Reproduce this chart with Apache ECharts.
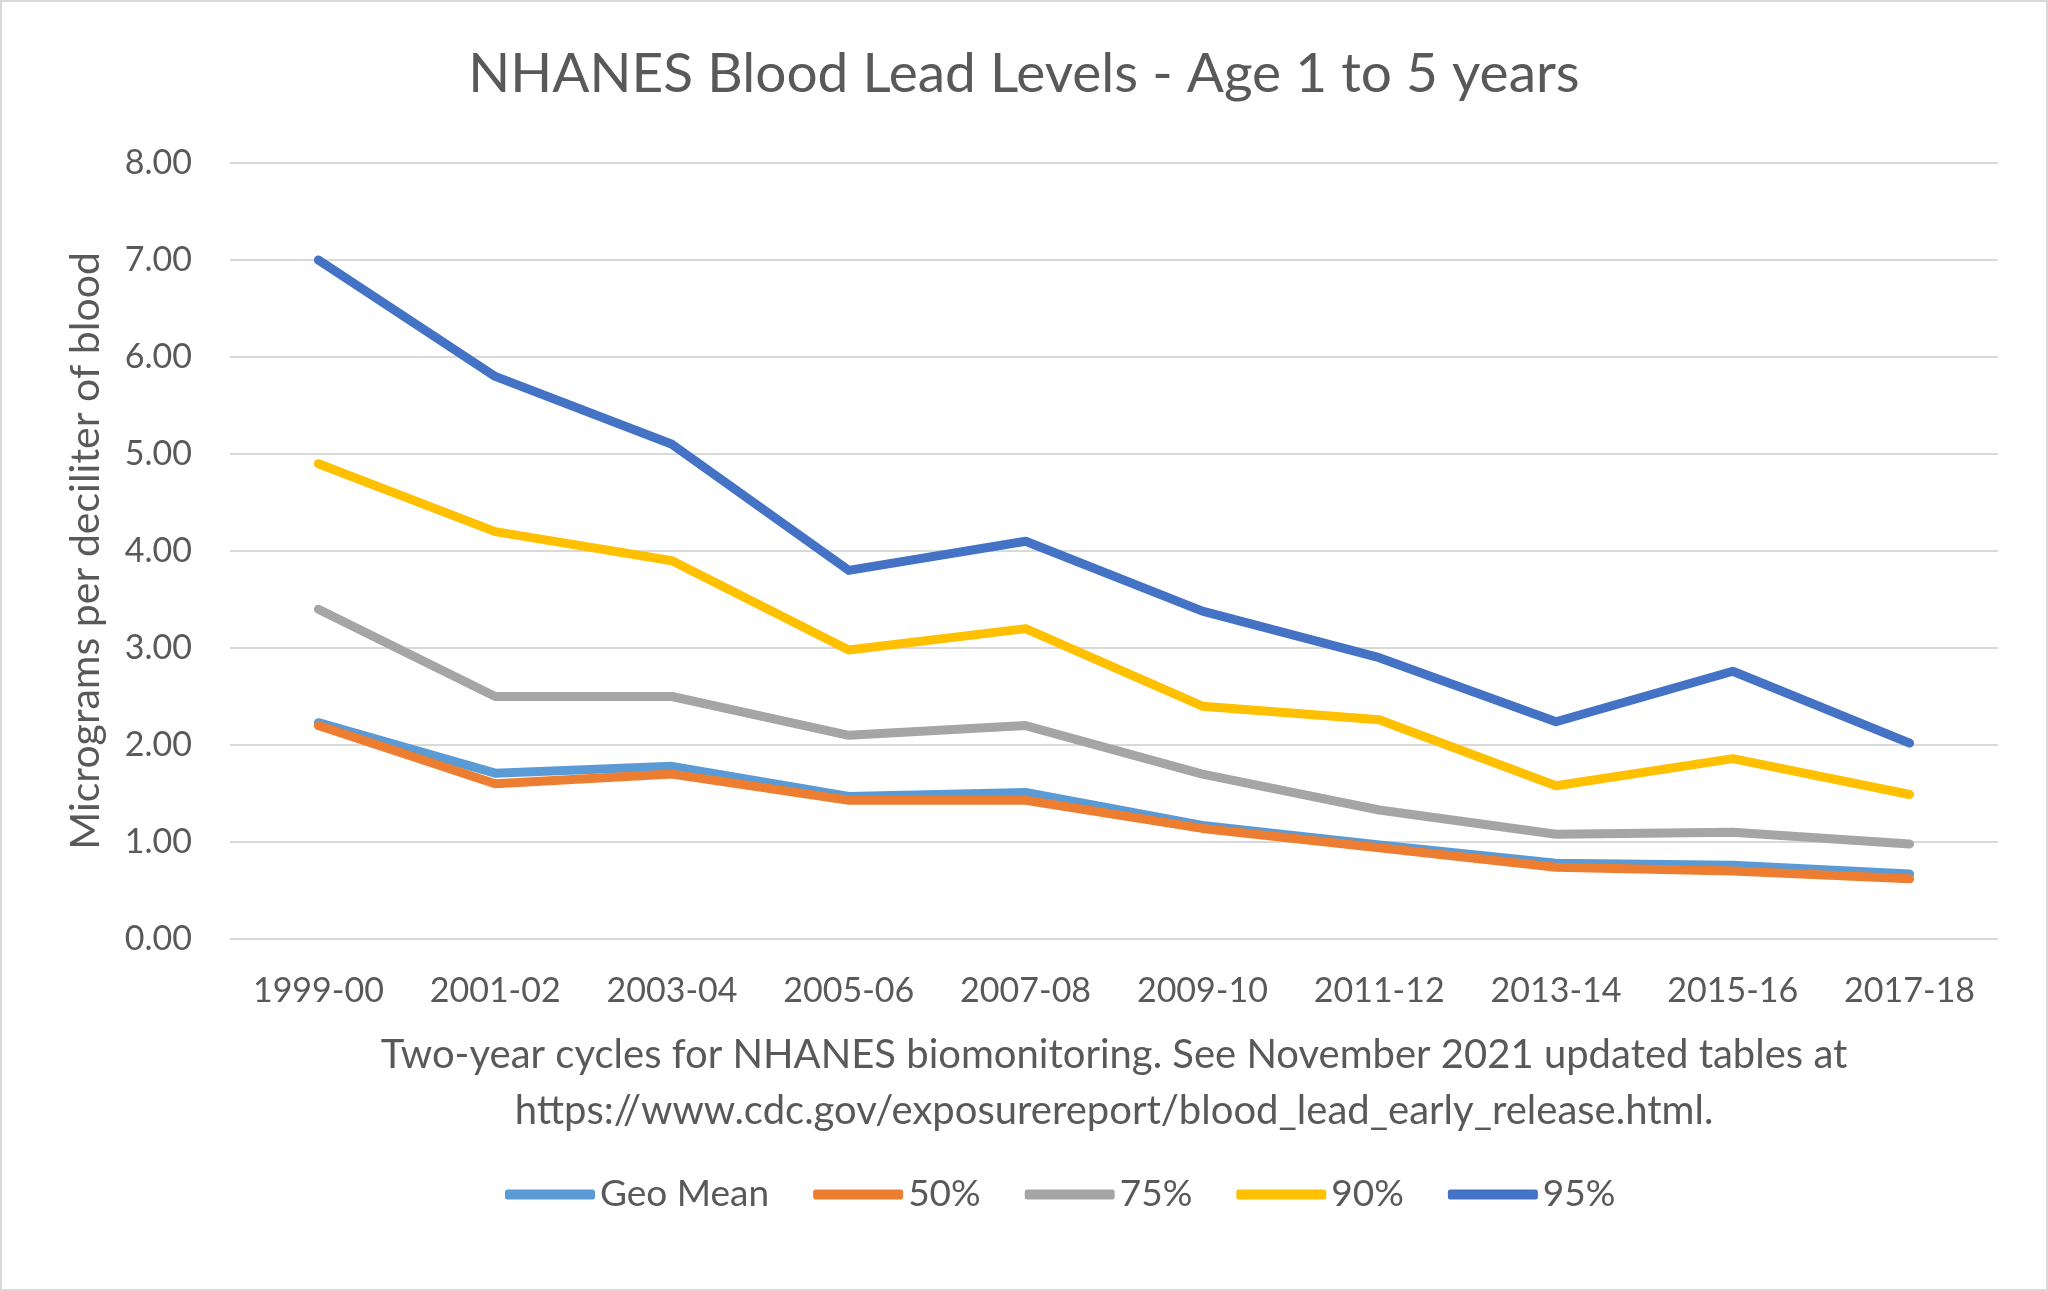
<!DOCTYPE html>
<html><head><meta charset="utf-8">
<script src="https://cdn.jsdelivr.net/npm/echarts@6/dist/echarts.min.js"></script>
<style>html,body{margin:0;padding:0;background:#fff}#c{width:2048px;height:1291px}</style>
</head><body><div id="c"></div>
<script>
const categories = ['1999-00','2001-02','2003-04','2005-06','2007-08','2009-10','2011-12','2013-14','2015-16','2017-18'];
const geoMean = [2.23, 1.71, 1.78, 1.47, 1.51, 1.17, 0.97, 0.78, 0.76, 0.67];
const p50 = [2.2, 1.6, 1.7, 1.43, 1.43, 1.14, 0.94, 0.74, 0.7, 0.62];
const p75 = [3.4, 2.5, 2.5, 2.1, 2.2, 1.7, 1.33, 1.08, 1.1, 0.98];
const p90 = [4.9, 4.2, 3.9, 2.98, 3.2, 2.4, 2.26, 1.58, 1.86, 1.49];
const p95 = [7.0, 5.8, 5.1, 3.8, 4.1, 3.38, 2.9, 2.24, 2.76, 2.02];
const seriesNames = ['Geo Mean','50%','75%','90%','95%'];
const seriesData = [geoMean, p50, p75, p90, p95];
const colors = ['#5B9BD5','#ED7D31','#A5A5A5','#FFC000','#4472C4'];

const FONT = 'Lato';
const TXT = '#595959';
const chart = echarts.init(document.getElementById('c'), null, {renderer:'canvas'});
chart.setOption({
  animation:false,
  backgroundColor:'#fff',
  title:{text:'NHANES Blood Lead Levels - Age 1 to 5 years', left:'center', top:42,
    textStyle:{fontFamily:FONT, fontSize:55, fontWeight:'normal', color:TXT}},
  graphic:[{type:'rect', shape:{x:1,y:1,width:2046,height:1289}, style:{fill:'none', stroke:'#d9d9d9', lineWidth:2}, silent:true}],
  grid:{left:230, right:50, top:163, bottom:352, containLabel:false},
  legend:{bottom:73, left:500, icon:'roundRect', itemWidth:90, itemHeight:10, itemGap:44,
    textStyle:{fontFamily:FONT, fontSize:37, color:TXT, padding:[0,0,0,0]}, data:seriesNames},
  xAxis:{type:'category', data:categories, boundaryGap:true,
    axisLine:{show:false}, axisTick:{show:false},
    axisLabel:{fontFamily:FONT, fontSize:34, color:TXT, margin:35},
    name:'Two-year cycles for NHANES biomonitoring. See November 2021 updated tables at\nhttps://www.cdc.gov/exposurereport/blood_lead_early_release.html.',
    nameLocation:'middle', nameGap:88,
    nameTextStyle:{fontFamily:FONT, fontSize:40, color:TXT, lineHeight:56}},
  yAxis:{type:'value', min:0, max:8, interval:1,
    axisLine:{show:false}, axisTick:{show:false},
    axisLabel:{fontFamily:FONT, fontSize:34, color:TXT, margin:38, formatter:v=>v.toFixed(2)},
    splitLine:{lineStyle:{color:'#d9d9d9', width:2}},
    name:'Micrograms per deciliter of blood', nameLocation:'middle', nameGap:124,
    nameTextStyle:{fontFamily:FONT, fontSize:41, color:TXT}},
  series: seriesNames.map((n,i)=>({name:n, type:'line', data:seriesData[i], showSymbol:false, symbol:'none',
    lineStyle:{color:colors[i], width:9, cap:'round', join:'round'}, itemStyle:{color:colors[i]}}))
});
</script></body></html>
